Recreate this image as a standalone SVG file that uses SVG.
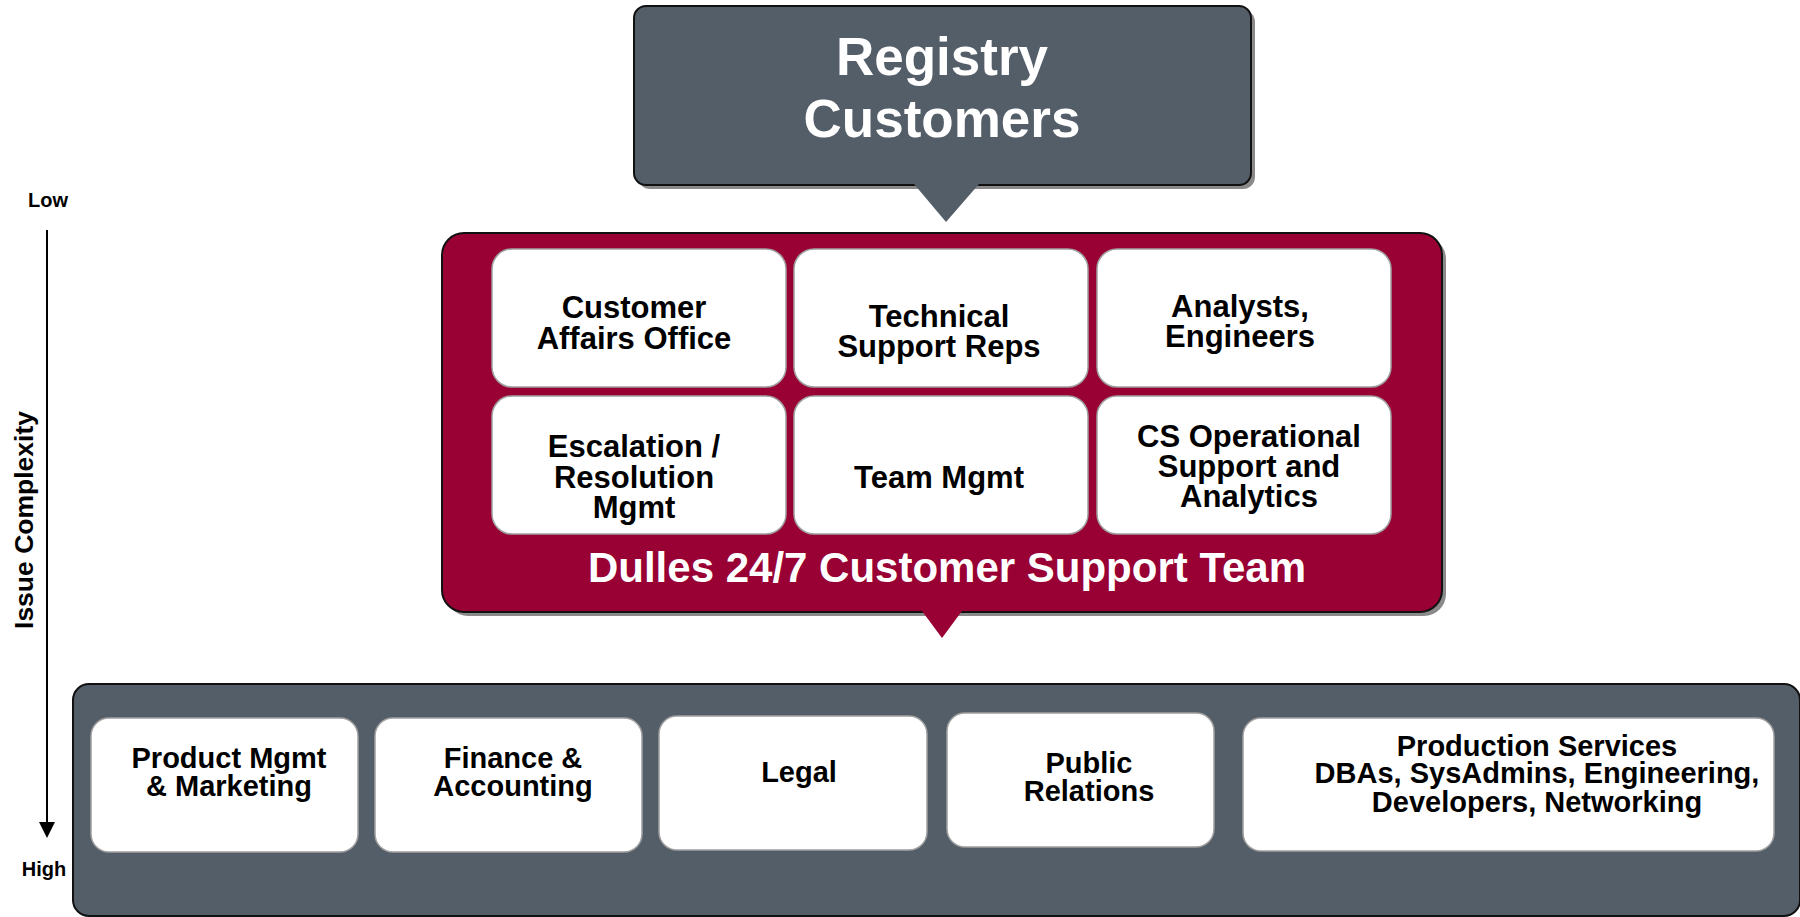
<svg xmlns="http://www.w3.org/2000/svg" width="1800" height="917" viewBox="0 0 1800 917">
<style>
text{font-family:"Liberation Sans",Arial,sans-serif;font-weight:bold;text-anchor:middle}
.shadow{fill:#8a8a8a}
.slate{fill:#545e69;stroke:#111;stroke-width:2}
.red{fill:#990033;stroke:#111;stroke-width:2}
.card{fill:#fff;stroke:#a0a0a0;stroke-width:1.5}
.wt{fill:#fff}
.c31{font-size:31px;fill:#000}
.c29{font-size:29px;fill:#000}
.ax{font-size:20px;fill:#000}
</style>

<g id="axis">
<text class="ax" x="48" y="207">Low</text>
<text class="ax" x="44" y="876">High</text>
<text x="33" y="520" transform="rotate(-90 33 520)" style="font-size:26.5px;fill:#000">Issue Complexity</text>
</g>

<g id="connectors">
<line x1="47" y1="230" x2="47" y2="823" stroke="#000" stroke-width="2"/>
<path d="M39,822 L55,822 L47,838 z" fill="#000"/>
</g>

<g id="registry-customers">
<rect class="shadow" x="638" y="10" width="617" height="179" rx="12"/>
<rect class="slate" x="634" y="6" width="617" height="179" rx="12"/>
<path d="M914,184 L979,184 L946,222 z" fill="#545e69"/>
<text class="wt" x="942" y="75" style="font-size:53px">Registry</text>
<text class="wt" x="942" y="137" style="font-size:53px">Customers</text>
</g>

<g id="support-team">
<rect class="shadow" x="446" y="237" width="1000" height="379" rx="22"/>
<rect class="red" x="442" y="233" width="1000" height="379" rx="22"/>
<path d="M922,611 L962,611 L942,638 z" fill="#990033"/>
<text class="wt" x="947" y="582" style="font-size:42px">Dulles 24/7 Customer Support Team</text>
</g>

<g id="customer-affairs">
<rect class="card" x="492" y="249" width="294" height="138" rx="20"/>
<text class="c31" x="634" y="318">Customer</text>
<text class="c31" x="634" y="349">Affairs Office</text>
</g>
<g id="tech-support">
<rect class="card" x="794" y="249" width="294" height="138" rx="20"/>
<text class="c31" x="939" y="327">Technical</text>
<text class="c31" x="939" y="357">Support Reps</text>
</g>
<g id="analysts">
<rect class="card" x="1097" y="249" width="294" height="138" rx="20"/>
<text class="c31" x="1240" y="317">Analysts,</text>
<text class="c31" x="1240" y="347">Engineers</text>
</g>
<g id="escalation">
<rect class="card" x="492" y="396" width="294" height="138" rx="20"/>
<text class="c31" x="634" y="457">Escalation /</text>
<text class="c31" x="634" y="488">Resolution</text>
<text class="c31" x="634" y="518">Mgmt</text>
</g>
<g id="team-mgmt">
<rect class="card" x="794" y="396" width="294" height="138" rx="20"/>
<text class="c31" x="939" y="488">Team Mgmt</text>
</g>
<g id="cs-ops">
<rect class="card" x="1097" y="396" width="294" height="138" rx="20"/>
<text class="c31" x="1249" y="447">CS Operational</text>
<text class="c31" x="1249" y="477">Support and</text>
<text class="c31" x="1249" y="507">Analytics</text>
</g>

<g id="backoffice">
<rect class="slate" x="73" y="684" width="1727" height="232" rx="16"/>
</g>
<g id="product-mgmt">
<rect class="card" x="91" y="718" width="267" height="134" rx="18"/>
<text class="c29" x="229" y="768">Product Mgmt</text>
<text class="c29" x="229" y="796">&amp; Marketing</text>
</g>
<g id="finance">
<rect class="card" x="375" y="718" width="267" height="134" rx="18"/>
<text class="c29" x="513" y="768">Finance &amp;</text>
<text class="c29" x="513" y="796">Accounting</text>
</g>
<g id="legal">
<rect class="card" x="659" y="716" width="268" height="134" rx="18"/>
<text class="c29" x="799" y="782">Legal</text>
</g>
<g id="public-relations">
<rect class="card" x="947" y="713" width="267" height="134" rx="18"/>
<text class="c29" x="1089" y="773">Public</text>
<text class="c29" x="1089" y="801">Relations</text>
</g>
<g id="production-services">
<rect class="card" x="1243" y="718" width="531" height="133" rx="18"/>
<text class="c29" x="1537" y="756">Production Services</text>
<text class="c29" x="1537" y="783">DBAs, SysAdmins, Engineering,</text>
<text class="c29" x="1537" y="812">Developers, Networking</text>
</g>
</svg>
